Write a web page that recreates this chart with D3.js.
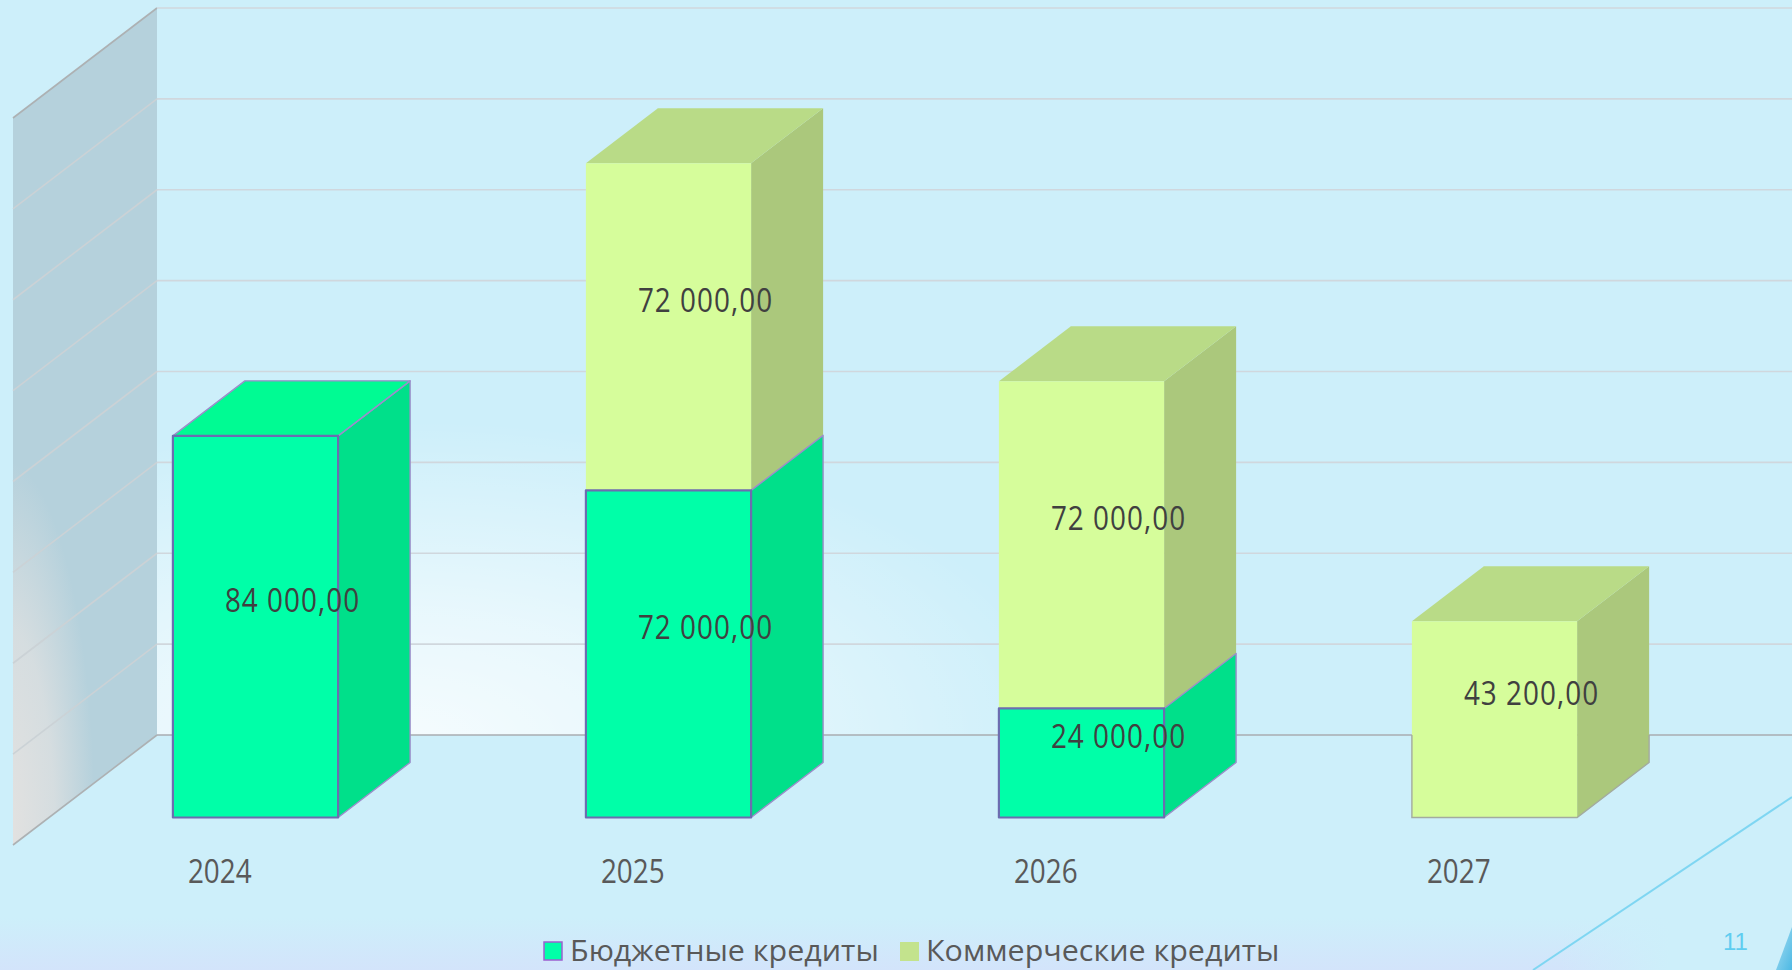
<!DOCTYPE html>
<html>
<head>
<meta charset="utf-8">
<script src="https://cdn.jsdelivr.net/npm/d3@7"></script>
<style>
    html, body { margin: 0; padding: 0; background: #cdeffa; overflow: hidden; }
    svg { display: block; }
    text { font-family: "Open Sans", sans-serif; }
</style>
</head>
<body>
<div id="chart"></div>
<script>
const years = ['2024', '2025', '2026', '2027'];
const budgetCredits = [84000, 72000, 24000, 0];
const commercialCredits = [0, 72000, 72000, 43200];
const seriesNames = ['Бюджетные кредиты', 'Коммерческие кредиты'];
const pageNumber = '11';

const width = 1792;
const height = 970;

const rows = years.map((year, i) => ({ year, budget: budgetCredits[i], commercial: commercialCredits[i] }));
const stacked = d3.stack().keys(['budget', 'commercial'])(rows);

// front plane of the 3d box
const x = d3.scaleBand().domain(years).range([13, 1665]).paddingInner(0.6).paddingOuter(0.3);
const y = d3.scaleLinear().domain([0, 160000]).range([845, 118]);
const depthX = 144;
const depthY = 110;
const barFront = 0.25;
const barBack = 0.75;

// screen position of a point: plain x, value, depth 0..1
const project = (px, value, depth) => [px + depth * depthX, y(value) - depth * depthY];
const poly = pts => 'M' + pts.map(p => p.join(',')).join('L') + 'Z';
const wallX = project(x.range()[0], 0, 1)[0];

const colors = {
    budget: { front: '#00ffa8', top: '#00fb93', side: '#00e08a', stroke: '#6c6db0', outer: '#9d8ccb' },
    commercial: { front: '#d6fd9b', top: '#b9db87', side: '#abc87c' }
};

const svg = d3.select('#chart').append('svg').attr('width', width).attr('height', height);
const defs = svg.append('defs');

const glow = defs.append('radialGradient').attr('id', 'wallGlow')
    .attr('gradientUnits', 'userSpaceOnUse')
    .attr('cx', 0).attr('cy', 0).attr('r', 1)
    .attr('gradientTransform', 'translate(400,740) scale(680,320)');
glow.append('stop').attr('offset', 0).attr('stop-color', '#ffffff').attr('stop-opacity', 0.8);
glow.append('stop').attr('offset', 0.4).attr('stop-color', '#ffffff').attr('stop-opacity', 0.55);
glow.append('stop').attr('offset', 1).attr('stop-color', '#ffffff').attr('stop-opacity', 0);

const sideGlow = defs.append('radialGradient').attr('id', 'sideGlow')
    .attr('gradientUnits', 'userSpaceOnUse')
    .attr('cx', 0).attr('cy', 0).attr('r', 1)
    .attr('gradientTransform', 'translate(5,830) scale(90,370)');
sideGlow.append('stop').attr('offset', 0).attr('stop-color', '#e4e2e0').attr('stop-opacity', 1);
sideGlow.append('stop').attr('offset', 0.55).attr('stop-color', '#e0e1e1').attr('stop-opacity', 0.75);
sideGlow.append('stop').attr('offset', 1).attr('stop-color', '#e0e1e1').attr('stop-opacity', 0);

const band = defs.append('linearGradient').attr('id', 'bottomBand').attr('x1', 0).attr('y1', 0).attr('x2', 0).attr('y2', 1);
band.append('stop').attr('offset', 0).attr('stop-color', '#d3e4fb').attr('stop-opacity', 0);
band.append('stop').attr('offset', 1).attr('stop-color', '#d3e4fb').attr('stop-opacity', 1);

const fade = defs.append('linearGradient').attr('id', 'bandFade').attr('x1', 0).attr('y1', 0).attr('x2', 1).attr('y2', 0);
fade.append('stop').attr('offset', 0).attr('stop-color', '#cdeffa').attr('stop-opacity', 0);
fade.append('stop').attr('offset', 1).attr('stop-color', '#cdeffa').attr('stop-opacity', 1);

const corner = defs.append('linearGradient').attr('id', 'cornerFill').attr('x1', 0).attr('y1', 0).attr('x2', 1).attr('y2', 1);
corner.append('stop').attr('offset', 0).attr('stop-color', '#a8def2');
corner.append('stop').attr('offset', 1).attr('stop-color', '#4db9e4');

// slide background
svg.append('rect').attr('width', width).attr('height', height).attr('fill', '#cdeffa');
svg.append('rect').attr('y', 918).attr('width', width).attr('height', 52).attr('fill', 'url(#bottomBand)');
svg.append('rect').attr('x', 1560).attr('y', 918).attr('width', 110).attr('height', 52).attr('fill', 'url(#bandFade)');
svg.append('rect').attr('x', 1670).attr('y', 918).attr('width', 122).attr('height', 52).attr('fill', '#cdeffa');
svg.append('line').attr('x1', 1533).attr('y1', 970).attr('x2', 1792).attr('y2', 797)
    .attr('stroke', '#7fd6f2').attr('stroke-width', 2);
svg.append('path').attr('d', 'M1776,970L1792,927L1792,970Z').attr('fill', 'url(#cornerFill)');

// back wall and side wall
const domainTop = y.domain()[1];
svg.append('rect').attr('x', wallX).attr('y', project(0, domainTop, 1)[1])
    .attr('width', width - wallX).attr('height', y(0) - y(domainTop))
    .attr('fill', 'url(#wallGlow)');

const sideWall = poly([
    project(x.range()[0], 0, 0), project(x.range()[0], domainTop, 0),
    project(x.range()[0], domainTop, 1), project(x.range()[0], 0, 1)
]);
svg.append('path').attr('d', sideWall).attr('fill', '#b5d1dc');
svg.append('path').attr('d', sideWall).attr('fill', 'url(#sideGlow)');

// gridlines over the two walls
const ticks = y.ticks(8);
const grid = svg.append('g').attr('fill', 'none');
grid.selectAll('.wall-grid').data(ticks).enter().append('path')
    .attr('class', 'wall-grid')
    .attr('d', d => {
        const a = project(x.range()[0], d, 0);
        const b = project(x.range()[0], d, 1);
        return `M${a[0]},${a[1]}L${b[0]},${b[1]}`;
    })
    .attr('stroke', d => d === 0 || d === domainTop ? '#adb1b3' : '#cbd2d6')
    .attr('stroke-width', 1.6);
grid.selectAll('.back-grid').data(ticks).enter().append('path')
    .attr('class', 'back-grid')
    .attr('d', d => {
        const b = project(x.range()[0], d, 1);
        return `M${b[0]},${b[1]}L${width},${b[1]}`;
    })
    .attr('stroke', d => d === 0 ? '#a9adb0' : '#d0d7dd')
    .attr('stroke-width', 1.6);

// bars: commercial first so the budget outline stays on top of the joint
const drawFaces = (g, x0, x1, low, high, c, hasTop) => {
    const fl = project(x0, low, barFront), fr = project(x1, low, barFront);
    const ftl = project(x0, high, barFront), ftr = project(x1, high, barFront);
    const br = project(x1, low, barBack), btr = project(x1, high, barBack), btl = project(x0, high, barBack);
    const faces = [
        { d: poly([fr, ftr, btr, br]), fill: c.side, stroke: c.outer },
        { d: poly([ftl, ftr, btr, btl]), fill: c.top, stroke: c.outer, skip: !hasTop },
        { d: poly([fl, ftl, ftr, fr]), fill: c.front, stroke: c.stroke }
    ];
    g.selectAll(null).data(faces.filter(f => !f.skip)).enter().append('path')
        .attr('d', f => f.d)
        .attr('fill', f => f.fill)
        .attr('stroke', f => f.stroke || 'none')
        .attr('stroke-width', f => f.stroke === c.stroke ? 2.2 : 1.4)
        .attr('stroke-linejoin', 'round');
};

const bars = svg.append('g');
[1, 0].forEach(s => {
    const key = stacked[s].key;
    stacked[s].forEach(seg => {
        if (seg[1] - seg[0] <= 0) return;
        const x0 = x(seg.data.year);
        const x1 = x0 + x.bandwidth();
        const g = bars.append('g').attr('class', key);
        drawFaces(g, x0, x1, seg[0], seg[1], colors[key], s === 1 || seg.data.commercial === 0);
        // thin grey edge where a bar with no budget part stands on the floor
        if (s === 1 && seg[0] === 0) {
            const wallBase = project(0, 0, 1)[1];
            const fl = project(x0, 0, barFront), fr = project(x1, 0, barFront), br = project(x1, 0, barBack);
            g.append('path')
                .attr('d', `M${fl[0]},${wallBase}L${fl[0]},${fl[1]}L${fr[0]},${fr[1]}L${br[0]},${br[1]}L${br[0]},${wallBase}`)
                .attr('fill', 'none').attr('stroke', '#a3ab9f').attr('stroke-width', 1.4);
        }
    });
});

// horizontally squeezed or stretched text, the slide font has other widths than Open Sans
const label = (parent, px, py, str, size, fill, anchor, stretch) => parent.append('text')
    .attr('transform', `translate(${px},${py}) scale(${stretch},1)`)
    .attr('text-anchor', anchor)
    .attr('font-size', size)
    .attr('fill', fill)
    .text(str);

// value labels sit at the centre of each 3d segment
const labels = svg.append('g');
stacked.forEach(series => series.forEach(seg => {
    if (seg[1] - seg[0] <= 0) return;
    const mid = (seg[0] + seg[1]) / 2;
    const p = project(x(seg.data.year) + x.bandwidth() / 2, mid, 0.5);
    const txt = d3.format(',.2f')(seg[1] - seg[0]).replace(/,/g, ' ').replace('.', ',');
    label(labels, p[0] + 1, p[1] + 13, txt, 32, '#404040', 'middle', 0.87).style('letter-spacing', '1.2px');
}));

// year labels
const axisLabels = svg.append('g');
years.forEach(year => {
    label(axisLabels, project(x(year), 0, barFront)[0] + 15, 883, year, 32, '#595959', 'start', 0.87);
});

// legend
const legend = svg.append('g');
legend.append('rect').attr('x', 544).attr('y', 942).attr('width', 18).attr('height', 18)
    .attr('fill', colors.budget.front).attr('stroke', '#9d5fd0').attr('stroke-width', 1.5);
legend.append('rect').attr('x', 900).attr('y', 942).attr('width', 19).attr('height', 19)
    .attr('fill', '#c3e38d');
label(legend, 570, 961, seriesNames[0], 30, '#595959', 'start', 1.015);
label(legend, 926, 961, seriesNames[1], 30, '#595959', 'start', 1.015);

svg.append('text').attr('x', 1723).attr('y', 950).attr('font-size', 24).attr('fill', '#5fcdf0')
    .style('font-family', '"Liberation Sans", sans-serif').text(pageNumber);
</script>
</body>
</html>
